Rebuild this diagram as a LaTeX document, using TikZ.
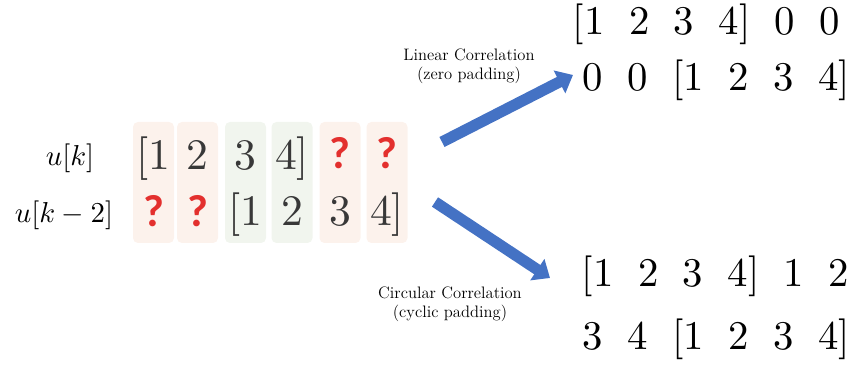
\documentclass[tikz,border=0pt]{standalone}
\usepackage{fontspec}
\newfontfamily\qmarkfont{Carlito}
\usetikzlibrary{arrows.meta}
\definecolor{padbg}{HTML}{FCF2EC}
\definecolor{databg}{HTML}{F1F5EE}
\definecolor{qred}{HTML}{E3302E}
\definecolor{arrowblue}{HTML}{4472C4}
\newcommand{\elgap}{\hspace{0.6em}}
\newcommand{\qmark}{\qmarkfont\bfseries ?}

\begin{document}
\begin{tikzpicture}[
    padcol/.style={fill=padbg, rounded corners=3.5pt, minimum width=1.025cm, minimum height=3.025cm, inner sep=0pt},
    datacol/.style={padcol, fill=databg},
    entry/.style={anchor=base, inner sep=0pt, text=black!78, scale=3.1, transform shape},
    qentry/.style={anchor=base, inner sep=0pt, text=qred, font=\fontsize{32}{36}\selectfont},
    result/.style={anchor=base west, inner sep=0pt, scale=2.9, transform shape},
    ulabel/.style={anchor=base, inner sep=0pt, scale=2.05, transform shape},
    note/.style={align=center, inner sep=0pt, font=\fontsize{11.8}{13.5}\selectfont},
    bigarrow/.style={arrowblue, line width=0.28cm, -{Triangle[length=0.38cm,width=0.62cm]}}
  ]
    %%%%% START %%%%%
    \useasboundingbox (0,0) rectangle (21.325,9.125);

    % shaded columns
    \node[padcol]  (colA) at (3.8375,4.5625) {};
    \node[padcol]  (colB) at (4.9375,4.5625) {};
    \node[datacol] (colC) at (6.1375,4.5625) {};
    \node[datacol] (colD) at (7.3,4.5625) {};
    \node[padcol]  (colE) at (8.5,4.5625) {};
    \node[padcol]  (colF) at (9.675,4.5625) {};

    % u[k]
    \node[ulabel] (uk) at (1.75,4.975) {$u[k]$};
    \node[entry] (a1) at (3.8375,4.875) {[1};
    \node[entry] (a2) at (4.9375,4.875) {2};
    \node[entry] (a3) at (6.1375,4.875) {3};
    \node[entry] (a4) at (7.3,4.875) {4]};
    \node[qentry] (a5) at (8.5,4.9) {\qmark};
    \node[qentry] (a6) at (9.675,4.9) {\qmark};

    % u[k-2]
    \node[ulabel] (ukk) at (1.6,3.55) {$u[k-2]$};
    \node[qentry] (b1) at (3.8375,3.45) {\qmark};
    \node[qentry] (b2) at (4.9375,3.45) {\qmark};
    \node[entry] (b3) at (6.1375,3.475) {[1};
    \node[entry] (b4) at (7.3,3.475) {2};
    \node[entry] (b5) at (8.5,3.475) {3};
    \node[entry] (b6) at (9.675,3.475) {4]};

    % linear correlation
    \node[result] (lin1) at (14.3,8.25) {[1\elgap 2\elgap 3\elgap 4]\elgap 0\elgap 0};
    \node[result] (lin2) at (14.55,6.85) {0\elgap 0\elgap [1\elgap 2\elgap 3\elgap 4]};
    \node[note] (linnote) at (11.725,7.475) {Linear Correlation\\(zero padding)};
    \coordinate (linfrom) at (11.05,5.575);
    \coordinate (linto) at (14.325,7.25);
    \draw[bigarrow] (linfrom) -- (linto);

    % circular correlation
    \node[result] (circ1) at (14.525,1.95) {[1\elgap 2\elgap 3\elgap 4]\elgap 1\elgap 2};
    \node[result] (circ2) at (14.55,0.375) {3\elgap 4\elgap [1\elgap 2\elgap 3\elgap 4]};
    \node[note] (circnote) at (11.25,1.525) {Circular Correlation\\(cyclic padding)};
    \coordinate (circfrom) at (10.875,4.075);
    \coordinate (circto) at (13.75,2.175);
    \draw[bigarrow] (circfrom) -- (circto);

    %%%%% END %%%%%
\end{tikzpicture}
\end{document}
